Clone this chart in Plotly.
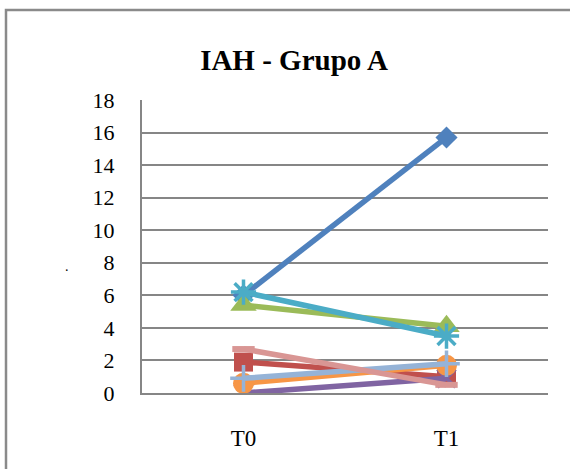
import plotly.graph_objects as go

categories = ["T0", "T1"]
s1 = [6.0, 15.7]
s2 = [1.9, 1.0]
s3 = [5.4, 4.1]
s4 = [0.0, 0.9]
s5 = [6.2, 3.5]
s6 = [0.6, 1.7]
s7 = [0.9, 1.8]
s8 = [2.7, 0.5]
yticks = [0, 2, 4, 6, 8, 10, 12, 14, 16, 18]

series = [
    (s1, "#4F81BD", "diamond", 17, 0),
    (s2, "#C0504D", "square", 19, 0),
    (s3, "#9BBB59", "triangle-up", 23, 0),
    (s4, "#8064A2", "x-thin-open", 18, 3.5),
    (s5, "#4BACC6", "asterisk-open", 21, 3.5),
    (s6, "#F79646", "circle", 21, 0),
    (s7, "#95B3D7", "cross-thin-open", 19, 3.5),
    (s8, "#D99694", "line-ew-open", 16, 6),
]

SERIF = '"Liberation Serif", "Times New Roman", Times, serif'

fig = go.Figure()
for vals, col, sym, sz, lw in series:
    fig.add_trace(go.Scatter(
        x=categories, y=vals, mode="lines+markers",
        line=dict(color=col, width=5.5),
        marker=dict(symbol=sym, size=sz, color=col,
                    line=dict(color=col, width=lw)),
        showlegend=False,
    ))

fig.update_layout(
    width=570, height=469,
    margin=dict(l=142, r=22, t=100, b=76),
    paper_bgcolor="white", plot_bgcolor="white",
    font=dict(family=SERIF, color="black", size=22),
    title=dict(text="IAH - Grupo A", x=294 / 570, xanchor="center",
               y=1 - 60 / 469, yanchor="middle",
               font=dict(size=29, family=SERIF, color="black", weight="bold")),
)
fig.update_xaxes(
    type="category", range=[-0.5, 1.5], showgrid=False,
    showline=True, linecolor="#868686", linewidth=2,
    ticks="", ticklabelstandoff=23, zeroline=False,
    tickfont=dict(size=23),
)
fig.update_yaxes(
    range=[0, 18], tickvals=yticks, showgrid=True,
    gridcolor="#868686", gridwidth=1.5,
    showline=True, linecolor="#868686", linewidth=2,
    ticks="", ticklabelstandoff=21, zeroline=False,
)
# outer chart frame
fig.add_shape(type="rect", xref="paper", yref="paper",
              x0=(6 - 142) / 406, x1=1.2, y0=-0.5, y1=(393 - 10) / 293,
              line=dict(color="#8a8a8a", width=2.5), layer="below")
fig.add_annotation(text=".", xref="paper", yref="paper",
                   x=(63 - 142) / 406, y=(393 - 266) / 293,
                   showarrow=False, font=dict(size=14))

fig.write_html("out.html", config={"displayModeBar": False},
               post_script="document.body.style.margin='0';")
